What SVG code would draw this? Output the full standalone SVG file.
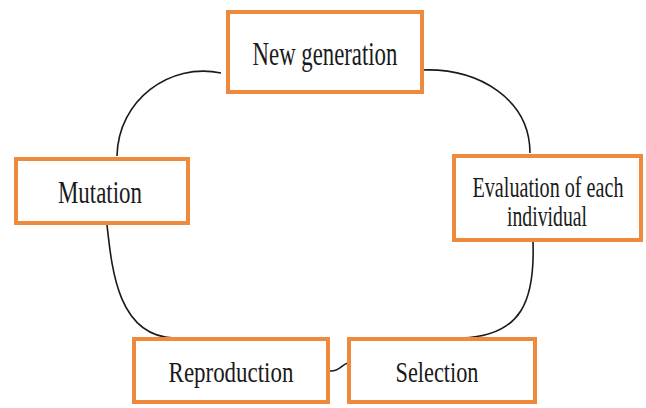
<svg xmlns="http://www.w3.org/2000/svg" width="646" height="408" viewBox="0 0 646 408">
<style>
.box{fill:#ffffff;stroke:#ef8a3c;stroke-width:4}
.lbl{font-family:'Liberation Serif','Times New Roman','DejaVu Serif',serif;fill:#1a1a1a;text-anchor:middle}
.con{fill:none;stroke:#1a1a1a;stroke-width:1.6}
</style>
<rect width="646" height="408" fill="#ffffff"/>
<g id="connectors">
<path class="con" d="M422,70 C480,68 530,100 530,153"/>
<path class="con" d="M221,73 C170,62 118,100 117,156"/>
<path class="con" d="M107,225 C112,270 118,336 174,338"/>
<path class="con" d="M533,242 C535,300 522,336 462,338"/>
<path class="con" d="M330,371 C339,372 342,364 348,363"/>
</g>
<g id="new-generation">
<rect class="box" x="228" y="12" width="194" height="80"/>
<text class="lbl" font-size="34" transform="translate(325,65) scale(0.67,1)">New generation</text>
</g>
<g id="evaluation">
<rect class="box" x="454" y="156" width="187" height="84"/>
<text class="lbl" font-size="29" transform="translate(548,197) scale(0.695,1)">Evaluation of each</text>
<text class="lbl" font-size="29" transform="translate(547,226) scale(0.68,1)">individual</text>
</g>
<g id="mutation">
<rect class="box" x="16" y="159" width="172" height="64"/>
<text class="lbl" font-size="31" transform="translate(100,203) scale(0.74,1)">Mutation</text>
</g>
<g id="reproduction">
<rect class="box" x="134" y="339" width="194" height="63"/>
<text class="lbl" font-size="30" transform="translate(231,382) scale(0.765,1)">Reproduction</text>
</g>
<g id="selection">
<rect class="box" x="349" y="339" width="186" height="63"/>
<text class="lbl" font-size="30" transform="translate(437,382) scale(0.743,1)">Selection</text>
</g>
</svg>
